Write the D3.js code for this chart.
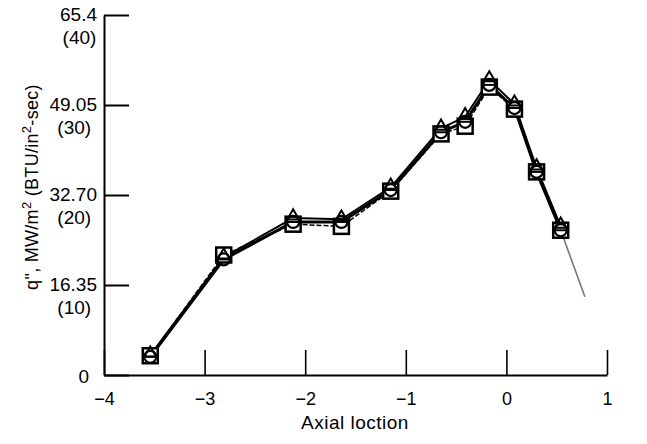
<!DOCTYPE html>
<html>
<head>
<meta charset="utf-8">
<script src="https://cdn.jsdelivr.net/npm/d3@7"></script>
<style>
  body { margin: 0; background: #fff; }
  svg { font-family: "Liberation Sans", Arial, sans-serif; }
</style>
</head>
<body>
<div id="chart"></div>
<script>
// axial positions of the measurement points
const axialX = [ -3.54, -2.81, -2.12, -1.64, -1.15, -0.65, -0.41, -0.17, 0.08, 0.30, 0.54 ];
// heat flux, MW/m2, one list per marker type
const squareQ = [ 3.5, 21.8, 27.4, 27.0, 33.4, 43.8, 45.2, 52.3, 48.3, 36.9, 26.3 ];
const circleQ = [ 3.3, 21.0, 27.8, 27.8, 33.6, 44.1, 46.0, 52.7, 48.5, 36.9, 26.3 ];
const triangleQ = [ 3.6, 21.4, 28.5, 28.3, 34.1, 44.8, 46.9, 53.6, 49.2, 37.6, 27.0 ];
// thin grey extension past the last point
const tailX = [ 0.54, 0.78 ];
const tailQ = [ 26.3, 14.2 ];

const xTicks = [ -4, -3, -2, -1, 0, 1 ];
const yTicks = [ 0, 16.35, 32.70, 49.05, 65.4 ];
const yTickLabels = [ '0', '16.35', '32.70', '49.05', '65.4' ];
const yTickSubLabels = [ '', '(10)', '(20)', '(30)', '(40)' ];

const width = 647, height = 444;

const svg = d3.select( '#chart' ).append( 'svg' )
  .attr( 'width', width )
  .attr( 'height', height );

const x = d3.scaleLinear().domain( [ -4, 1 ] ).range( [ 104, 607 ] );
const y = d3.scaleLinear().domain( [ 0, 65.4 ] ).range( [ 375, 15 ] );

// x axis, ticks pointing up into the plot
const xAxis = svg.append( 'g' )
  .attr( 'transform', `translate(0,${y( 0 )})` )
  .call( d3.axisBottom( x ).tickValues( xTicks ).tickFormat( d3.format( 'd' ) )
    .tickSize( -25 ).tickSizeOuter( 0 ).tickPadding( 17 ) );
xAxis.select( '.domain' ).attr( 'stroke', '#000' ).attr( 'stroke-width', 2 );
xAxis.selectAll( '.tick line' ).attr( 'stroke', '#000' ).attr( 'stroke-width', 1.6 );
xAxis.selectAll( '.tick text' ).attr( 'fill', '#000' ).style( 'font-size', '18px' );

// y axis, ticks pointing right
const yAxis = svg.append( 'g' )
  .attr( 'transform', `translate(${x( -4 )},0)` )
  .call( d3.axisLeft( y ).tickValues( yTicks ).tickSize( -25 ).tickSizeOuter( 0 ).tickFormat( '' ) );
yAxis.select( '.domain' ).attr( 'stroke', '#000' ).attr( 'stroke-width', 2 );
yAxis.selectAll( '.tick line' ).attr( 'stroke', '#000' ).attr( 'stroke-width', 2 );

// two-line y tick labels (MW/m2 over BTU/in2-sec)
yTicks.forEach( ( v, i ) => {
  const top = svg.append( 'text' )
    .attr( 'x', i === 0 ? 89 : 97 )
    .attr( 'y', y( v ) + ( i === 0 ? 8 : 6 ) )
    .attr( 'text-anchor', 'end' )
    .style( 'font-size', '19px' )
    .text( yTickLabels[ i ] );
  if ( yTickSubLabels[ i ] ) {
    const w = top.node().getComputedTextLength();
    svg.append( 'text' )
      .attr( 'x', 97 - w / 2 + 1 )
      .attr( 'y', y( v ) + 29 )
      .attr( 'text-anchor', 'middle' )
      .style( 'font-size', '19px' )
      .text( yTickSubLabels[ i ] );
  }
} );

// axis titles
svg.append( 'text' )
  .attr( 'x', 355 )
  .attr( 'y', 429 )
  .attr( 'text-anchor', 'middle' )
  .style( 'font-size', '19px' )
  .style( 'letter-spacing', '0.5px' )
  .text( 'Axial loction' );

const yTitle = svg.append( 'text' )
  .attr( 'transform', 'translate(38,187) rotate(-90)' )
  .attr( 'text-anchor', 'middle' )
  .style( 'font-size', '18px' )
  .style( 'letter-spacing', '0.3px' );
yTitle.append( 'tspan' ).text( 'q", MW/m' );
yTitle.append( 'tspan' ).attr( 'dy', -7 ).style( 'font-size', '13px' ).text( '2' );
yTitle.append( 'tspan' ).attr( 'dy', 7 ).text( ' (BTU/in' );
yTitle.append( 'tspan' ).attr( 'dy', -7 ).style( 'font-size', '13px' ).text( '2' );
yTitle.append( 'tspan' ).attr( 'dy', 7 ).text( '-sec)' );

// lines
const line = d3.line().x( d => x( d[ 0 ] ) ).y( d => y( d[ 1 ] ) );
const zipPts = ( xs, ys ) => xs.map( ( v, i ) => [ v, ys[ i ] ] );

svg.append( 'path' )
  .datum( zipPts( tailX, tailQ ) )
  .attr( 'd', line )
  .attr( 'fill', 'none' )
  .attr( 'stroke', '#777' )
  .attr( 'stroke-width', 1.6 );

svg.append( 'path' )
  .datum( zipPts( axialX, squareQ ) )
  .attr( 'd', line )
  .attr( 'fill', 'none' )
  .attr( 'stroke', '#000' )
  .attr( 'stroke-width', 1.5 )
  .attr( 'stroke-dasharray', '5,2' );

svg.append( 'path' )
  .datum( zipPts( axialX, triangleQ ) )
  .attr( 'd', line )
  .attr( 'fill', 'none' )
  .attr( 'stroke', '#000' )
  .attr( 'stroke-width', 2 );

svg.append( 'path' )
  .datum( zipPts( axialX, circleQ ) )
  .attr( 'd', line )
  .attr( 'fill', 'none' )
  .attr( 'stroke', '#000' )
  .attr( 'stroke-width', 3 );

// markers
svg.append( 'g' ).selectAll( 'rect' )
  .data( zipPts( axialX, squareQ ) )
  .join( 'rect' )
  .attr( 'x', d => x( d[ 0 ] ) - 7.5 )
  .attr( 'y', d => y( d[ 1 ] ) - 7.5 )
  .attr( 'width', 15 )
  .attr( 'height', 15 )
  .attr( 'fill', '#fff' )
  .attr( 'stroke', '#000' )
  .attr( 'stroke-width', 2.5 );

const circ = svg.append( 'g' ).selectAll( 'g' )
  .data( zipPts( axialX, circleQ ) )
  .join( 'g' )
  .attr( 'transform', d => `translate(${x( d[ 0 ] )},${y( d[ 1 ] )})` );
circ.append( 'circle' )
  .attr( 'r', 6 )
  .attr( 'fill', 'none' )
  .attr( 'stroke', '#000' )
  .attr( 'stroke-width', 2.2 );
circ.append( 'line' )
  .attr( 'x1', -6 ).attr( 'x2', 6 )
  .attr( 'stroke', '#000' )
  .attr( 'stroke-width', 2 );

const tri = d3.symbol().type( d3.symbolTriangle ).size( 60 );
svg.append( 'g' ).selectAll( 'path' )
  .data( zipPts( axialX, triangleQ ) )
  .join( 'path' )
  .attr( 'd', tri )
  .attr( 'transform', d => `translate(${x( d[ 0 ] )},${y( d[ 1 ] ) - 2})` )
  .attr( 'fill', 'none' )
  .attr( 'stroke', '#000' )
  .attr( 'stroke-width', 2 );
</script>
</body>
</html>
